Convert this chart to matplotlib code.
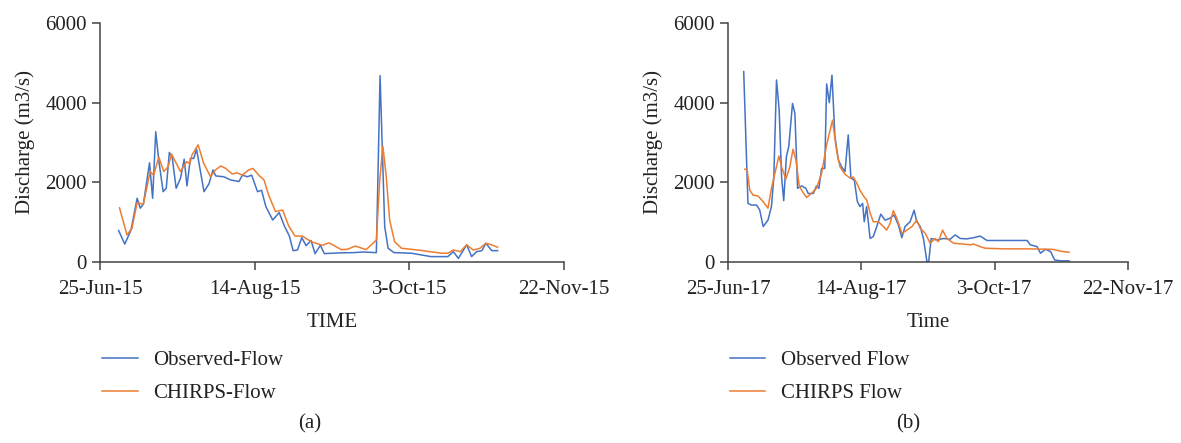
import matplotlib
matplotlib.use("Agg")
import matplotlib.pyplot as plt
import matplotlib.dates as mdates
from matplotlib.ticker import FuncFormatter
import pandas as pd

plt.rcParams["font.family"] = ["Liberation Serif", "DejaVu Serif"]
plt.rcParams["font.size"] = 15

BLUE = "#4472C4"
ORANGE = "#ED7D31"

# days after 25 June of each year, with discharge in m3/s
obs15_day = [6, 8, 10, 12, 13, 14, 16, 17, 18, 19, 20.4, 21.4, 22.4, 23.3, 24.6, 26, 27.2,
             28.1, 29.2, 30.3, 31.2, 33.6, 35.2, 36.5, 37.4, 40, 42.2, 44.9, 46, 47.6, 49,
             50.9, 52.2, 53.6, 55.8, 57.9, 59.6, 61.2, 62.4, 63.8, 65.2, 66.6, 68.2, 69.5,
             71.2, 72.5, 75, 78, 82, 85, 89.3, 90.5, 92, 93.1, 95, 100.6, 107, 112.4, 114.2,
             115.8, 118.5, 120.1, 121.7, 123.4, 124.7, 126.6, 128.5]
obs15_q = [790, 450, 800, 1600, 1350, 1450, 2490, 1600, 3270, 2540, 1765, 1850, 2750, 2640,
           1850, 2100, 2580, 1910, 2600, 2600, 2830, 1765, 1960, 2310, 2160, 2140, 2060, 2020,
           2180, 2140, 2180, 1765, 1800, 1390, 1054, 1240, 900, 650, 284, 300, 610, 410, 540,
           210, 420, 210, 220, 230, 235, 250, 235, 4680, 890, 345, 235, 220, 135, 135, 260,
           90, 430, 135, 260, 285, 470, 285, 285]

chirps15_day = [6.3, 8.7, 10.3, 12, 14, 16.2, 17.3, 19, 20.6, 22, 23.1, 26, 28, 29, 29.7,
                31.7, 33.5, 35.7, 37.3, 39, 40.6, 42.7, 44.3, 46, 48, 49.4, 51.3, 53, 54.5,
                56.7, 59, 61, 63, 65.4, 67, 68.6, 71.8, 74, 75, 78, 80, 82.5, 86, 88.2, 89.3,
                90.4, 91.4, 92.5, 93.6, 95.2, 97.4, 102.8, 110.4, 112.4, 114.2, 116.4, 118.5,
                120.6, 122.8, 124.7, 126.6, 128.5]
chirps15_q = [1360, 680, 845, 1490, 1450, 2270, 2180, 2630, 2270, 2390, 2710, 2270, 2520,
              2460, 2685, 2940, 2480, 2140, 2310, 2410, 2350, 2210, 2240, 2180, 2310, 2350,
              2180, 2060, 1680, 1265, 1305, 900, 650, 650, 570, 500, 420, 480, 440, 310, 320,
              400, 310, 470, 550, 2060, 2910, 2140, 1050, 510, 345, 300, 220, 220, 300, 260,
              430, 300, 345, 470, 430, 370]

obs17_day = [5.9, 7.5, 8.8, 10.7, 11.9, 13.2, 15, 16.3, 17.2, 18.2, 19.2, 20.1, 20.9, 21.9,
             22.8, 24.2, 25.1, 26.1, 27.6, 29.2, 30.1, 32, 33.2, 34.1, 35.1, 36.3, 37, 38, 39,
             40.1, 41.4, 42.6, 43.9, 45.1, 46.1, 47.4, 48.5, 49.5, 50.5, 51.1, 52, 53.3, 54.5,
             55.8, 57.3, 58.9, 60.8, 62.3, 63.9, 65.2, 66.4, 68.3, 69.8, 70.8, 72.1, 73.3,
             74.6, 75.3, 76.2, 78.3, 80.8, 83.3, 85.2, 87.1, 89.6, 92.1, 94.6, 97.1, 112.2,
             113.4, 115.9, 117.2, 119.1, 121, 122.5, 124.8, 127.9]
obs17_q = [4780, 1470, 1430, 1430, 1305, 890, 1050, 1390, 2140, 4570, 3815, 2140, 1540, 2640,
           2900, 3980, 3730, 1850, 1910, 1850, 1720, 1720, 1910, 1850, 2350, 2350, 4470, 4000,
           4690, 3150, 2560, 2390, 2270, 3190, 2110, 2050, 1520, 1390, 1470, 1010, 1390, 590,
           640, 890, 1200, 1050, 1100, 1180, 930, 610, 890, 1010, 1300, 1010, 890, 590, 10,
           20, 590, 550, 590, 570, 680, 590, 580, 610, 650, 540, 540, 430, 385, 220, 320, 260,
           50, 30, 30]

chirps17_day = [6.3, 7.2, 8.2, 9.4, 11.3, 13.2, 15, 16.3, 17.6, 19.1, 20.1, 21.7, 23.2, 24.4,
                25.5, 26.7, 28.2, 29.5, 31.3, 33.2, 35.1, 37, 39.2, 40.7, 42, 43.9, 45.8, 47,
                48.3, 49.5, 51, 52, 53.3, 54.5, 56.4, 58.3, 59.5, 60.8, 62, 63.3, 65.2, 67.1,
                69, 70.8, 72.1, 74, 75.8, 77.7, 78.9, 80.5, 82.1, 84.6, 88.3, 90.9, 92.1, 94.6,
                96.5, 103.4, 112.2, 119.7, 121.6, 124.8, 127.9]
chirps17_q = [2330, 2310, 1800, 1680, 1655, 1515, 1350, 1850, 2225, 2660, 2390, 2080, 2390,
              2830, 2560, 1910, 1740, 1620, 1720, 1850, 2225, 2940, 3560, 2810, 2390, 2200,
              2110, 2130, 1980, 1800, 1640, 1560, 1230, 1010, 1010, 890, 800, 970, 1290, 1100,
              720, 800, 890, 1050, 845, 720, 470, 590, 510, 800, 590, 470, 450, 430, 450, 385,
              345, 330, 330, 320, 320, 270, 245]

panels = [
    dict(start="2015-06-25", obs=(obs15_day, obs15_q), sim=(chirps15_day, chirps15_q),
         xlabel="TIME", names=("Observed-Flow", "CHIRPS-Flow"), tag="(a)", tag_x=0.2625,
         leg_x=0.0709, rect=[0.0847, 0.4086, 0.393, 0.5395]),
    dict(start="2017-06-25", obs=(obs17_day, obs17_q), sim=(chirps17_day, chirps17_q),
         xlabel="Time", names=("Observed Flow", "CHIRPS Flow"), tag="(b)", tag_x=0.769,
         leg_x=0.602, rect=[0.6164, 0.4086, 0.3387, 0.5395]),
]


def to_dates(start, days):
    return pd.Timestamp(start) + pd.to_timedelta(days, unit="D")


fig = plt.figure(figsize=(11.81, 4.43), dpi=100)

for p in panels:
    ax = fig.add_axes(p["rect"])
    t0 = pd.Timestamp(p["start"])
    l1, = ax.plot(to_dates(p["start"], p["obs"][0]), p["obs"][1], color=BLUE, lw=1.1)
    l2, = ax.plot(to_dates(p["start"], p["sim"][0]), p["sim"][1], color=ORANGE, lw=1.1)

    ticks = [t0 + pd.Timedelta(days=d) for d in (0, 50, 100, 150)]
    ax.set_xlim(ticks[0], ticks[-1])
    ax.set_xticks(ticks)
    ax.xaxis.set_major_formatter(FuncFormatter(
        lambda v, pos: (lambda d: f"{d.day}-{d:%b-%y}")(mdates.num2date(v))))
    ax.set_ylim(0, 6000)
    ax.set_yticks([0, 2000, 4000, 6000])

    for s in ("top", "right"):
        ax.spines[s].set_visible(False)
    for s in ("left", "bottom"):
        ax.spines[s].set_color("#444444")
        ax.spines[s].set_linewidth(1.1)
    ax.tick_params(direction="out", length=6, width=1.1, color="#444444",
                   labelcolor="#222222")
    ax.tick_params(axis="x", pad=7)

    ax.set_ylabel("Discharge (m3/s)", color="#222222", labelpad=7)
    ax.set_xlabel(p["xlabel"], color="#222222", labelpad=10)

    fig.legend([l1, l2], p["names"], loc="upper left", bbox_to_anchor=(p["leg_x"], 0.2506),
               bbox_transform=fig.transFigure, frameon=False, handlelength=1.7,
               handletextpad=0.75, labelspacing=0.65, fontsize=15, labelcolor="#222222")

    fig.text(p["tag_x"], 0.022, p["tag"], ha="center", va="bottom", color="#222222",
             fontsize=15)

fig.savefig("out.png", dpi=100)
